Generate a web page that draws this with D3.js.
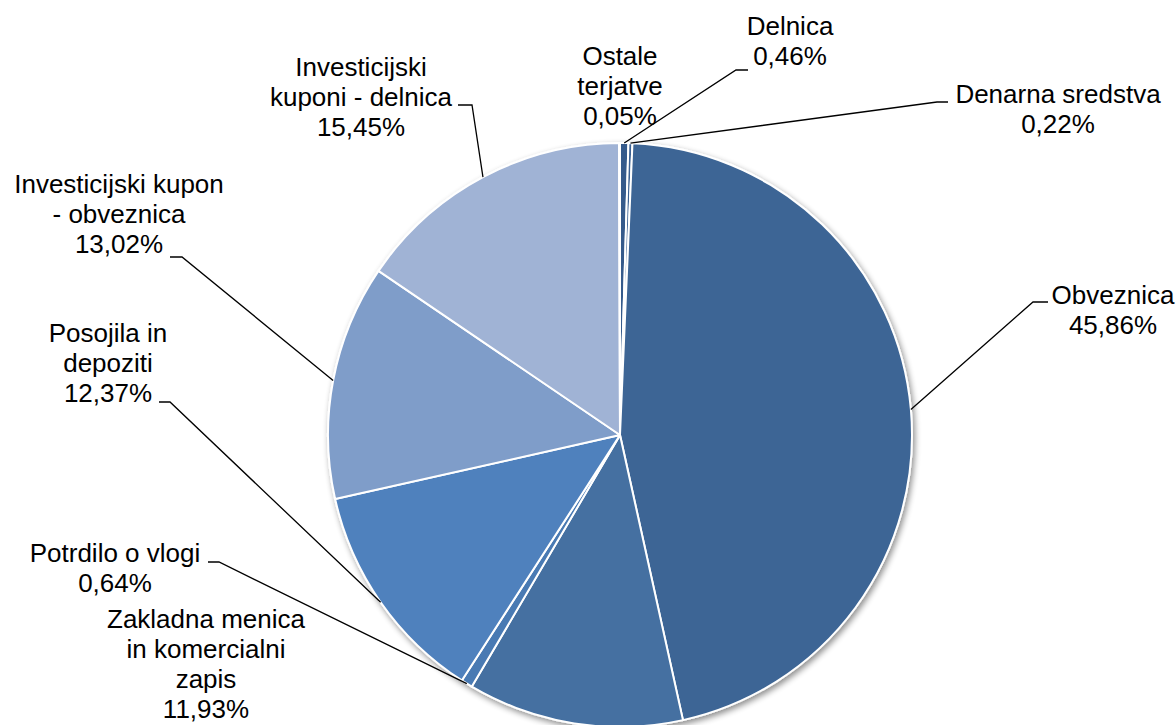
<!DOCTYPE html>
<html>
<head>
<meta charset="utf-8">
<script src="https://cdn.jsdelivr.net/npm/d3@7/dist/d3.min.js"></script>
<style>
  html, body { margin: 0; padding: 0; background: #ffffff; }
  svg { display: block; }
  text { font-family: "Liberation Sans", Arial, sans-serif; }
</style>
</head>
<body>
<svg id="chart" width="1176" height="725"></svg>
<script>
// ---- data ----
const categories = [
  "Delnica",
  "Denarna sredstva",
  "Obveznica",
  "Zakladna menica\nin komercialni\nzapis",
  "Potrdilo o vlogi",
  "Posojila in\ndepoziti",
  "Investicijski kupon\n- obveznica",
  "Investicijski\nkuponi - delnica",
  "Ostale\nterjatve"
];
const values = [0.46, 0.22, 45.86, 11.93, 0.64, 12.37, 13.02, 15.45, 0.05];
const colors = ["#345a8b", "#3a6092", "#3d6595", "#4470a1", "#4a7ab3", "#4f81bd", "#7f9dc9", "#a0b3d5", "#c6d2e8"];

// ---- layout (label anchor: centre x, first baseline y; stub: horizontal end of leader) ----
const labelLayout = [
  { x: 790,  y: 35,  stub: [[748, 70], [736, 70]] },
  { x: 1058, y: 103, stub: [[948, 102], [937, 102]] },
  { x: 1113, y: 304, stub: [[1048, 302], [1033, 302]] },
  { x: 206,  y: 628, stub: null },
  { x: 115,  y: 562, stub: [[208, 562], [219, 562]] },
  { x: 108,  y: 342, stub: [[159, 402], [170, 402]] },
  { x: 119,  y: 193, stub: [[170, 257], [182, 257]] },
  { x: 361,  y: 76,  stub: [[458, 105], [472, 105]] },
  { x: 620,  y: 65,  stub: null }
];

const W = 1176, H = 725;
const cx = 620, cy = 435, R = 292;
const lineH = 30;
const fmt = v => d3.format(".2f")(v).replace(".", ",") + "%";

const svg = d3.select("#chart");

const defs = svg.append("defs");
const flt = defs.append("filter").attr("id", "shadow")
  .attr("x", "-10%").attr("y", "-10%").attr("width", "130%").attr("height", "130%");
flt.append("feGaussianBlur").attr("in", "SourceAlpha").attr("stdDeviation", 3).attr("result", "b");
flt.append("feOffset").attr("in", "b").attr("dx", 2).attr("dy", 3).attr("result", "o");
flt.append("feComponentTransfer").attr("in", "o").attr("result", "o2")
  .append("feFuncA").attr("type", "linear").attr("slope", 0.45);
const fm = flt.append("feMerge");
fm.append("feMergeNode").attr("in", "o2");
fm.append("feMergeNode").attr("in", "SourceGraphic");

const data = categories.map((c, i) => ({ name: c, value: values[i], color: colors[i], layout: labelLayout[i] }));

const pie = d3.pie().value(d => d.value).sort(null).startAngle(0).endAngle(2 * Math.PI);
const arcs = pie(data);
const arc = d3.arc().innerRadius(0).outerRadius(R);

const g = svg.append("g").attr("transform", `translate(${cx},${cy})`);

g.append("g").attr("filter", "url(#shadow)")
  .selectAll("path")
  .data(arcs)
  .enter().append("path")
  .attr("d", arc)
  .attr("fill", d => d.data.color)
  .attr("stroke", "#ffffff")
  .attr("stroke-width", 2)
  .attr("stroke-linejoin", "round");

// leader lines
const lineGen = d3.line();
arcs.forEach(a => {
  const L = a.data.layout;
  if (!L.stub) return;
  const mid = (a.startAngle + a.endAngle) / 2;
  const px = cx + R * Math.sin(mid);
  const py = cy - R * Math.cos(mid);
  const pts = [L.stub[0], L.stub[1], [px, py]];
  svg.append("path")
    .attr("d", lineGen(pts))
    .attr("fill", "none")
    .attr("stroke", "#000000")
    .attr("stroke-width", 1.3);
});

// labels
arcs.forEach(a => {
  const L = a.data.layout;
  const lines = a.data.name.split("\n").concat([fmt(a.data.value)]);
  const t = svg.append("text")
    .attr("text-anchor", "middle")
    .attr("font-size", 26)
    .attr("fill", "#000000");
  lines.forEach((s, i) => {
    t.append("tspan").attr("x", L.x).attr("y", L.y + i * lineH).text(s);
  });
});
</script>
</body>
</html>
